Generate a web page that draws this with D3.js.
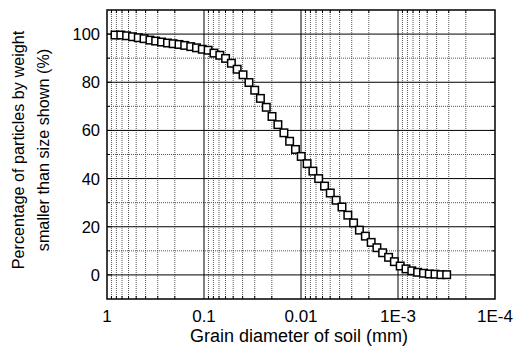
<!DOCTYPE html>
<html>
<head>
<meta charset="utf-8">
<script src="https://cdn.jsdelivr.net/npm/d3@7"></script>
<style>
  body { margin: 0; background: #fff; }
  text { font-family: "Liberation Sans", Arial, sans-serif; fill: #000; }
</style>
</head>
<body>
<div id="chart"></div>
<script>
// grain size distribution
const diameters = [0.827, 0.721, 0.628, 0.546, 0.476, 0.415, 0.361, 0.315, 0.274, 0.238,
    0.208, 0.181, 0.158, 0.137, 0.1195, 0.1041, 0.0907, 0.0790, 0.0687, 0.0599,
    0.0522, 0.0455, 0.0396, 0.0344, 0.0300, 0.0262, 0.0228, 0.0199, 0.0173, 0.0150,
    0.0131, 0.0114, 0.00995, 0.00865, 0.00754, 0.00657, 0.00572, 0.00499, 0.00434, 0.00378,
    0.00329, 0.00287, 0.00250, 0.00217, 0.00189, 0.00165, 0.00144, 0.00125, 0.00109, 0.000949,
    0.000827, 0.000721, 0.000628, 0.000546, 0.000476, 0.000415, 0.000361, 0.000315]
const percentFiner = [99.6, 99.6, 99.3, 98.9, 98.5, 98.1, 97.5, 97.1, 96.7, 96.3,
    96.0, 95.7, 95.3, 94.8, 94.3, 93.7, 93.3, 92.1, 91.2, 89.9,
    87.9, 85.4, 83.1, 79.9, 76.7, 73.3, 69.6, 65.8, 62.4, 59.0,
    55.5, 52.1, 49.2, 46.2, 43.1, 40.0, 36.9, 34.0, 31.0, 28.2,
    24.8, 21.6, 18.6, 16.1, 13.5, 11.3, 9.2, 7.3, 5.5, 3.7,
    2.5, 1.7, 1.1, 0.7, 0.4, 0.3, 0.1, 0.1]

const xTicks = [1, 0.1, 0.01, 0.001, 0.0001]
const xTickLabels = ["1", "0.1", "0.01", "1E-3", "1E-4"]
const yTicks = [0, 20, 40, 60, 80, 100]

const width = 520, height = 349
const margin = {top: 10, right: 25, bottom: 50, left: 107}
const plotW = width - margin.left - margin.right
const plotH = height - margin.top - margin.bottom

const svg = d3.select("#chart").append("svg")
    .attr("width", width).attr("height", height)
const g = svg.append("g").attr("transform", `translate(${margin.left},${margin.top})`)

const x = d3.scaleLog().domain([1, 1e-4]).range([0, plotW])
const y = d3.scaleLinear().domain([-10, 110]).range([plotH, 0])

// minor decade positions 2..9 per decade
const minorX = []
for (let e = 0; e > -4; e--) {
    for (let m = 9; m >= 2; m--) minorX.push(m * Math.pow(10, e - 1))
}
const minorY = d3.range(10, 100, 20)

const grid = g.append("g")
grid.selectAll(".vminor").data(minorX).enter().append("line")
    .attr("x1", d => x(d)).attr("x2", d => x(d))
    .attr("y1", 0).attr("y2", plotH)
    .attr("stroke", "#555").attr("stroke-width", 1)
    .attr("stroke-dasharray", "1,1")
grid.selectAll(".hminor").data(minorY).enter().append("line")
    .attr("x1", 0).attr("x2", plotW)
    .attr("y1", d => y(d)).attr("y2", d => y(d))
    .attr("stroke", "#555").attr("stroke-width", 1)
    .attr("stroke-dasharray", "1,1")
grid.selectAll(".vmajor").data(xTicks.slice(1, 4)).enter().append("line")
    .attr("x1", d => x(d)).attr("x2", d => x(d))
    .attr("y1", 0).attr("y2", plotH)
    .attr("stroke", "#000").attr("stroke-width", 1)
grid.selectAll(".hmajor").data(yTicks).enter().append("line")
    .attr("x1", 0).attr("x2", plotW)
    .attr("y1", d => y(d)).attr("y2", d => y(d))
    .attr("stroke", "#000").attr("stroke-width", 1)

// inward ticks on all four sides
const yAll = d3.range(0, 110, 10)
const tk = g.append("g").attr("stroke", "#000").attr("stroke-width", 1)
tk.selectAll(".tl").data(yAll).enter().append("line")
    .attr("x1", 0).attr("x2", d => d % 20 == 0 ? 5 : 3)
    .attr("y1", d => y(d)).attr("y2", d => y(d))
tk.selectAll(".tr").data(yAll).enter().append("line")
    .attr("x1", plotW).attr("x2", d => plotW - (d % 20 == 0 ? 5 : 3))
    .attr("y1", d => y(d)).attr("y2", d => y(d))
tk.selectAll(".tb").data(minorX).enter().append("line")
    .attr("x1", d => x(d)).attr("x2", d => x(d))
    .attr("y1", plotH).attr("y2", plotH - 3)
tk.selectAll(".tt").data(minorX).enter().append("line")
    .attr("x1", d => x(d)).attr("x2", d => x(d))
    .attr("y1", 0).attr("y2", 3)

g.append("rect")
    .attr("width", plotW).attr("height", plotH)
    .attr("fill", "none").attr("stroke", "#000").attr("stroke-width", 1.5)

// tick labels
g.selectAll(".xlab").data(xTicks).enter().append("text")
    .attr("x", d => x(d)).attr("y", plotH + 23)
    .attr("text-anchor", "middle")
    .style("font-size", "17px")
    .text((d, i) => xTickLabels[i])
g.selectAll(".ylab").data(yTicks).enter().append("text")
    .attr("x", -7).attr("y", d => y(d) + 6)
    .attr("text-anchor", "end")
    .style("font-size", "16.5px")
    .text(d => d)

// markers
const sz = 7.5
g.selectAll(".pt").data(diameters).enter().append("rect")
    .attr("x", d => x(d) - sz / 2)
    .attr("y", (d, i) => y(percentFiner[i]) - sz / 2)
    .attr("width", sz).attr("height", sz)
    .attr("fill", "#fff").attr("stroke", "#000").attr("stroke-width", 1.5)

// axis titles
svg.append("text")
    .attr("x", margin.left + plotW / 2 - 2).attr("y", height - 7)
    .attr("text-anchor", "middle")
    .style("font-size", "18px")
    .text("Grain diameter of soil (mm)")
svg.append("text")
    .attr("transform", `translate(24,150) rotate(-90)`)
    .attr("text-anchor", "middle")
    .style("font-size", "16.2px")
    .text("Percentage of particles by weight")
svg.append("text")
    .attr("transform", `translate(49,150) rotate(-90)`)
    .attr("text-anchor", "middle")
    .style("font-size", "16.2px")
    .text("smaller than size shown (%)")
</script>
</body>
</html>
